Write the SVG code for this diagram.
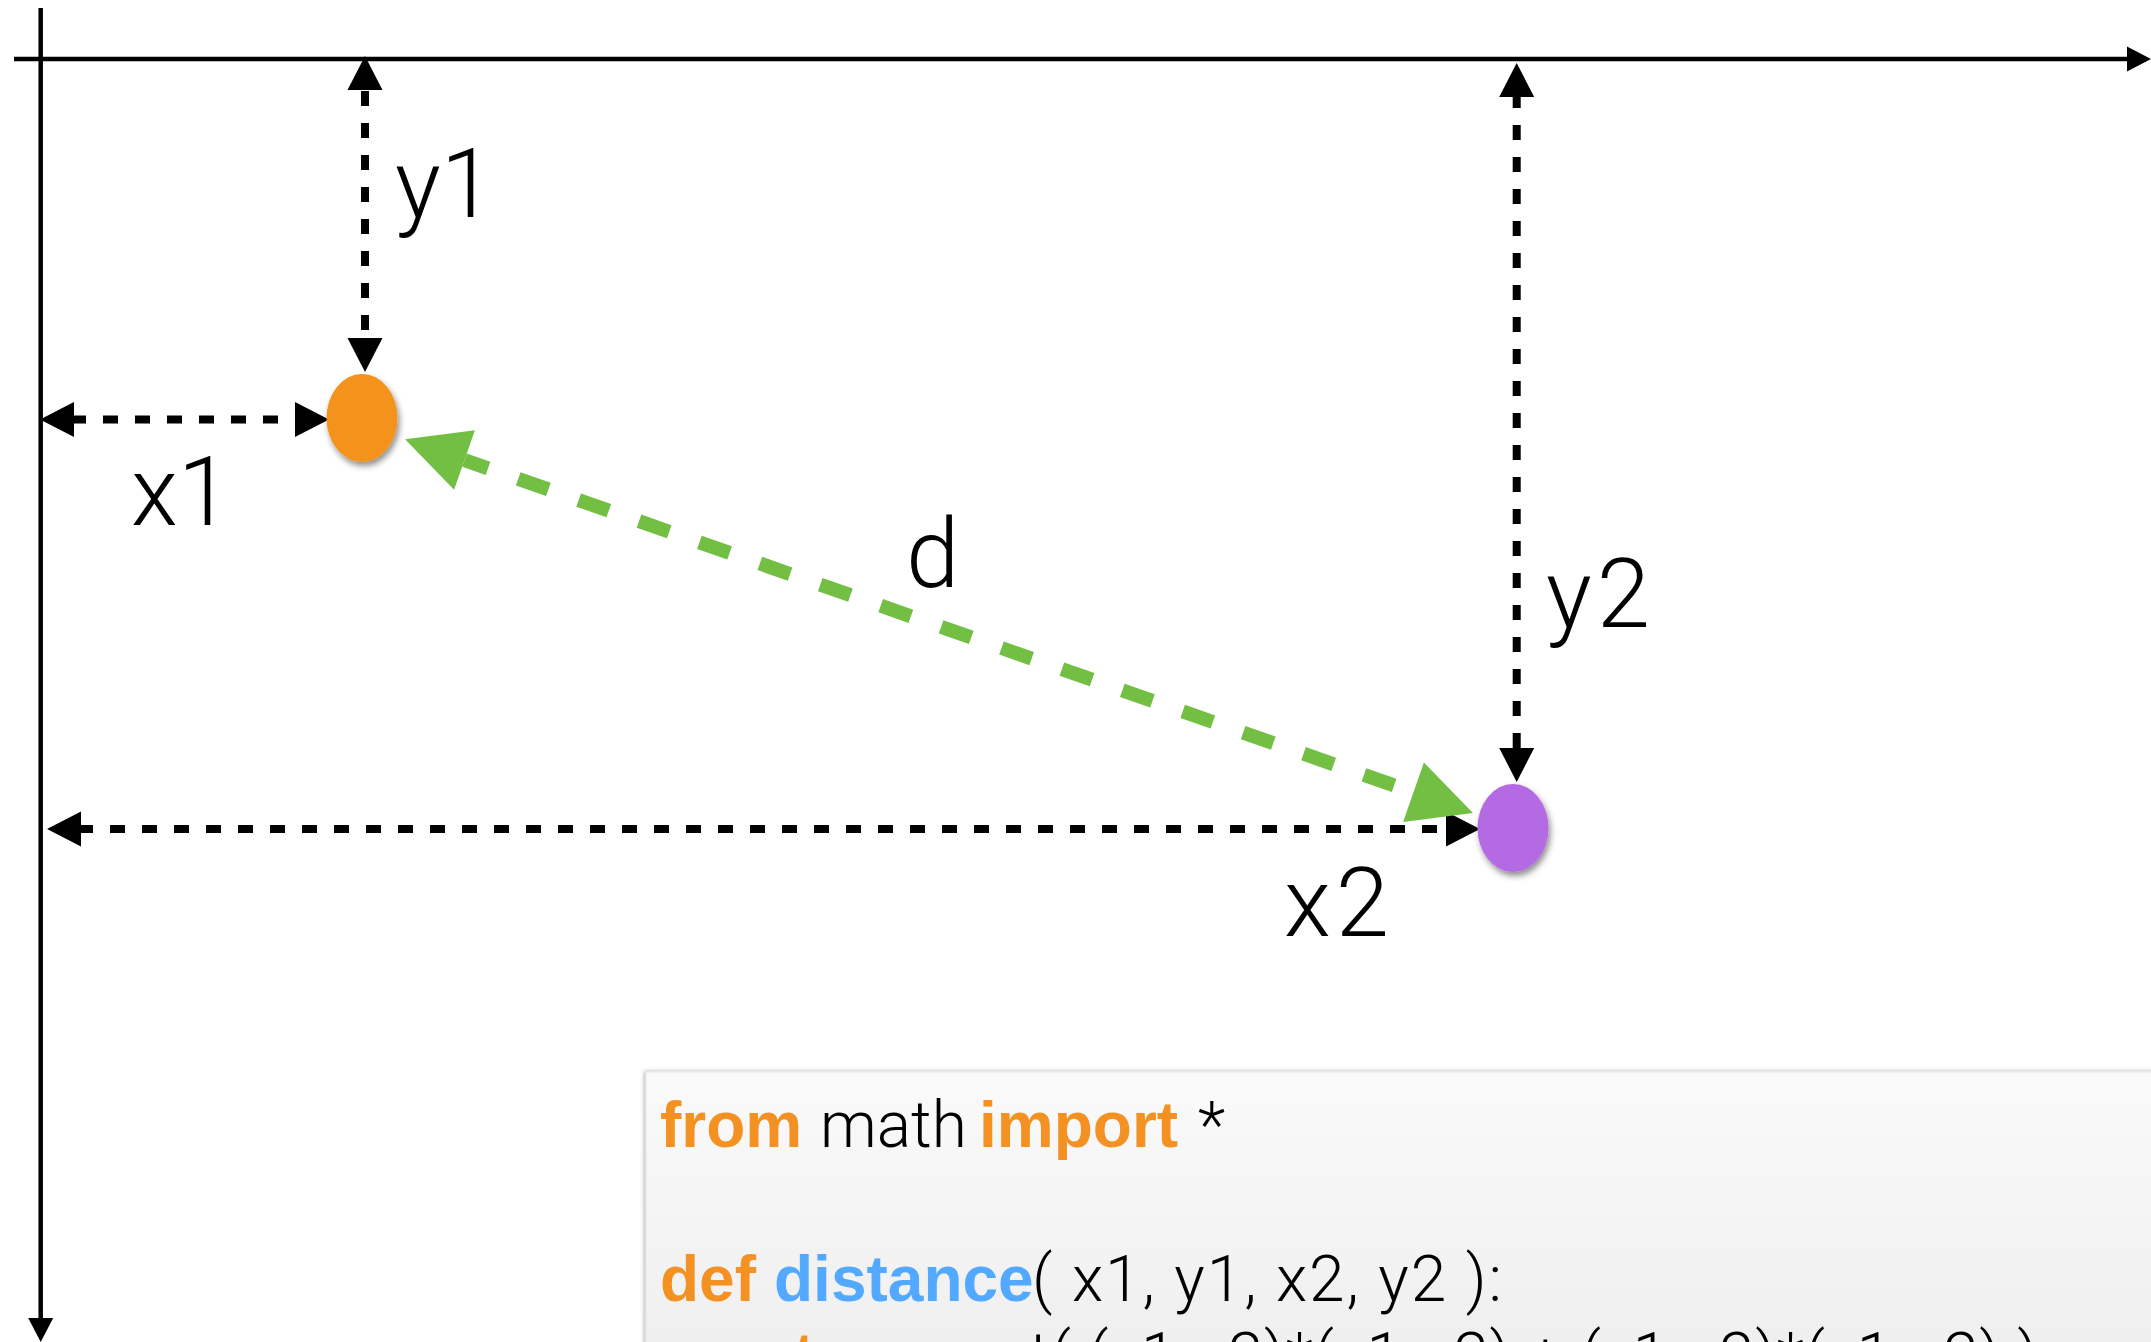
<svg xmlns="http://www.w3.org/2000/svg" width="2151" height="1342" viewBox="0 0 2151 1342">
<style>
.axis{stroke:#000;stroke-width:4.5;fill:none}
.dim{stroke:#000;stroke-width:8;fill:none;stroke-dasharray:15 17}
.dist{stroke:#72BF44;stroke-width:14;fill:none;stroke-dasharray:32 32}
.lbl{font-family:Roboto,"Liberation Sans",sans-serif;font-weight:300;font-size:96px;fill:#000}
.code{font-family:Roboto,"Liberation Sans",sans-serif;font-weight:300;font-size:64px;fill:#000}
.kw{font-family:"Liberation Sans",Arial,sans-serif;font-weight:bold;font-size:64px;fill:#F39222}
.fn{font-family:"Liberation Sans",Arial,sans-serif;font-weight:bold;font-size:64px;fill:#52A9FF}
</style>
<defs>
<marker id="axh" markerUnits="userSpaceOnUse" markerWidth="24" markerHeight="25" refX="0" refY="12.5" orient="auto-start-reverse" overflow="visible">
<path d="M0,0 L24,12.5 L0,25 z" fill="#000"/>
</marker>
<marker id="dh" markerUnits="userSpaceOnUse" markerWidth="34" markerHeight="35" refX="0" refY="17.5" orient="auto-start-reverse" overflow="visible">
<path d="M0,0 L34,17.5 L0,35 z" fill="#000"/>
</marker>
<marker id="gh" markerUnits="userSpaceOnUse" markerWidth="63" markerHeight="63" refX="0" refY="31.5" orient="auto-start-reverse" overflow="visible">
<path d="M0,0 L63,31.5 L0,63 z" fill="#72BF44"/>
</marker>
<filter id="dotsh" x="-30%" y="-30%" width="160%" height="160%">
<feDropShadow dx="2" dy="4" stdDeviation="3" flood-color="#000" flood-opacity="0.45"/>
</filter>
<filter id="boxsh" x="-5%" y="-10%" width="110%" height="120%">
<feDropShadow dx="-1" dy="0" stdDeviation="2" flood-color="#000" flood-opacity="0.35"/>
</filter>
<linearGradient id="boxg" x1="0" y1="0" x2="0" y2="1">
<stop offset="0" stop-color="#fafafa"/>
<stop offset="1" stop-color="#eeeeee"/>
</linearGradient>
</defs>
<rect width="2151" height="1342" fill="#fff"/>

<g id="code-box">
<rect x="646" y="1072" width="1560" height="300" fill="url(#boxg)" stroke="#e6e6e6" stroke-width="1" filter="url(#boxsh)"/>
<text class="kw" x="660" y="1147">from</text>
<text class="code" x="820" y="1147">math</text>
<text class="kw" x="979" y="1147">import</text>
<text class="code" x="1198" y="1147">*</text>
<text class="kw" x="660" y="1301">def</text>
<text class="fn" x="774" y="1301">distance</text>
<text class="code" x="1032" y="1301" textLength="470" lengthAdjust="spacing">( x1, y1, x2, y2 ):</text>
<text class="kw" x="733" y="1378">return</text>
<text class="code" x="936" y="1378" textLength="1102" lengthAdjust="spacing">sqrt( (x1-x2)*(x1-x2) + (y1-y2)*(y1-y2) )</text>
</g>

<g id="connectors">
<path id="x-axis" class="axis" d="M14,59 H2127" marker-end="url(#axh)"/>
<path id="y-axis" class="axis" d="M40.7,8 V1318" marker-end="url(#axh)"/>
<path id="dim-y1" class="dim" d="M365,90 V338" stroke-dasharray="14.3 17.4" stroke-dashoffset="-1" marker-start="url(#dh)" marker-end="url(#dh)"/>
<path id="dim-x1" class="dim" d="M74,419.5 H295" stroke-dasharray="15.3 16.6" stroke-dashoffset="3" marker-start="url(#dh)" marker-end="url(#dh)"/>
<path id="dim-y2" class="dim" d="M1516.7,97 V748" stroke-dasharray="15.5 16.5" stroke-dashoffset="4" marker-start="url(#dh)" marker-end="url(#dh)"/>
<path id="dim-x2" class="dim" d="M81,829 H1446" stroke-dasharray="15.5 16.5" stroke-dashoffset="3" marker-start="url(#dh)" marker-end="url(#dh)"/>
<path id="dist-d" class="dist" d="M464.5,460.1 L1413.5,792.2" stroke-dashoffset="7.1" marker-start="url(#gh)" marker-end="url(#gh)"/>
</g>

<g id="point1">
<ellipse cx="362" cy="418" rx="35.5" ry="44" fill="#F3931E" filter="url(#dotsh)"/>
</g>
<g id="point2">
<ellipse cx="1513" cy="828" rx="35.5" ry="44" fill="#B36BE2" filter="url(#dotsh)"/>
</g>

<g id="labels">
<text class="lbl" x="395" y="217">y1</text>
<text class="lbl" x="131" y="525">x1</text>
<text class="lbl" x="906" y="587">d</text>
<text class="lbl" x="1546" y="627">y<tspan dx="5">2</tspan></text>
<text class="lbl" x="1284" y="936">x<tspan dx="5">2</tspan></text>
</g>
</svg>
